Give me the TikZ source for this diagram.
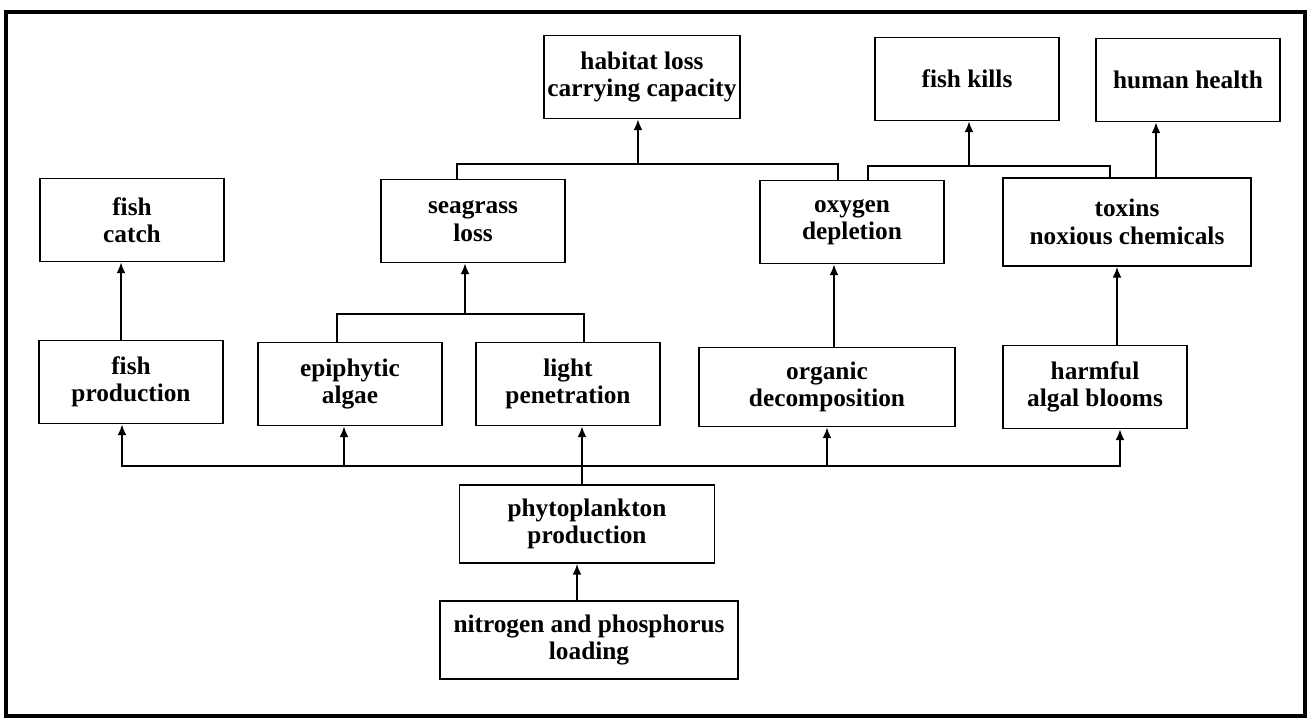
\documentclass[tikz,border=0pt]{standalone}
\usepackage{fontspec}
\setmainfont{Liberation Serif}
\usetikzlibrary{calc}
\usetikzlibrary{arrows.meta}

\tikzset{
  effect/.style={draw, line width=1.1pt, align=center, inner sep=2pt,
    minimum width=36.8mm, minimum height=16.6mm,
    font=\fontsize{14.4}{15.6}\selectfont\bfseries},
  link/.style={line width=0.9pt, -{Latex[length=6pt,width=5pt]}},
  joint/.style={line width=0.9pt}
}

\begin{document}
\begin{tikzpicture}[x=0.2mm, y=-0.2mm]
  \useasboundingbox (0,0) rectangle (1309,718);
  \draw[line width=2pt] (6,12) rectangle (1305,716);

  \node[effect] (habitat) at (642,77) {habitat loss\\carrying capacity};
  \node[effect] (kills) at (967,79) {fish kills};
  \node[effect] (health) at (1188,80) {human health};
  \node[effect] (catch) at (132,220) {fish\\catch};
  \node[effect] (seagrass) at (473,221) {seagrass\\loss};
  \node[effect] (oxygen) at (852,222) {oxygen\\depletion};
  \node[effect, minimum width=49.6mm, minimum height=17.6mm] (toxins) at (1127,222) {toxins\\noxious chemicals};
  \node[effect] (fishprod) at (131,382) {fish\\production};
  \node[effect] (epiphyte) at (350,384) {epiphytic\\algae};
  \node[effect] (light) at (568,384) {light\\penetration};
  \node[effect, minimum width=51.2mm, minimum height=15.8mm] (organic) at (827,387) {organic\\decomposition};
  \node[effect] (harmful) at (1095,387) {harmful\\algal blooms};
  \node[effect, minimum width=51mm, minimum height=15.6mm] (phyto) at (587,524) {phytoplankton\\production};
  \node[effect, minimum width=59.6mm, minimum height=15.6mm] (loading) at (589,640) {nitrogen and phosphorus\\loading};

  \coordinate (seajoin) at (465,314);
  \coordinate (habjoin) at (638,164);
  \coordinate (killjoin) at (969,166);
  \coordinate (spread) at (582,466);

  \draw[link] ($(fishprod.north)+(-10,0)$) coordinate (f1) -- (f1 |- catch.south);

  \draw[joint] ($(epiphyte.north)+(-13,0)$) |- (seajoin) -| ($(light.north)+(16,0)$);
  \draw[link] (seajoin) -- (seajoin |- seagrass.south);

  \draw[joint] ($(seagrass.north)+(-16,0)$) |- (habjoin) -| ($(oxygen.north)+(-14,0)$);
  \draw[link] (habjoin) -- (habjoin |- habitat.south);

  \draw[joint] ($(oxygen.north)+(16,0)$) |- (killjoin) -| ($(toxins.north)+(-17,0)$);
  \draw[link] (killjoin) -- (killjoin |- kills.south);

  \draw[link] ($(toxins.north)+(29,0)$) coordinate (t1) -- (t1 |- health.south);
  \draw[link] ($(organic.north)+(7,0)$) coordinate (o1) -- (o1 |- oxygen.south);
  \draw[link] ($(harmful.north)+(22,0)$) coordinate (h1) -- (h1 |- toxins.south);

  \draw[joint] (phyto.north -| spread) -- (spread);
  \draw[link] (spread) -- (spread |- light.south);
  \draw[link] (spread) -| ($(fishprod.south)+(-9,0)$);
  \draw[link] (spread) -| ($(epiphyte.south)+(-6,0)$);
  \draw[link] (spread) -| (organic.south);
  \draw[link] (spread) -| ($(harmful.south)+(25,0)$);

  \draw[link] ($(loading.north)+(-12,0)$) coordinate (n1) -- (n1 |- phyto.south);
\end{tikzpicture}
\end{document}
